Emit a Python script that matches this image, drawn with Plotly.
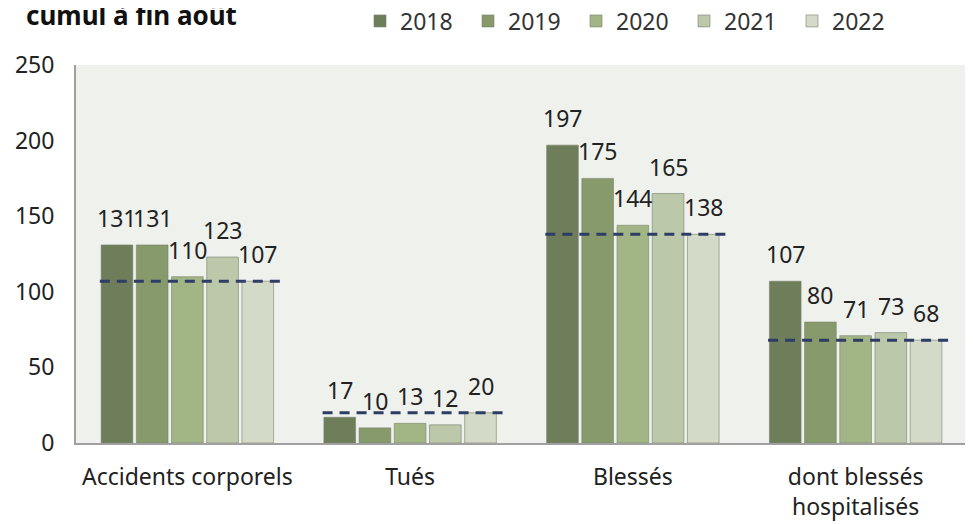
import plotly.graph_objects as go

categories = ["Accidents corporels", "Tués", "Blessés", "dont blessés<br>hospitalisés"]
years = ["2018", "2019", "2020", "2021", "2022"]
values = {
    "2018": [131, 17, 197, 107],
    "2019": [131, 10, 175, 80],
    "2020": [110, 13, 144, 71],
    "2021": [123, 12, 165, 73],
    "2022": [107, 20, 138, 68],
}
reference_year = "2022"
colors = ["#6e7d5a", "#879a6c", "#a2b584", "#bcc8aa", "#d3dbc8"]
y_ticks = [0, 50, 100, 150, 200, 250]

FONT = "Noto Sans"
FS = 23
BARGAP = 0.21
fig = go.Figure()
for yr, col in zip(years, colors):
    fig.add_trace(go.Bar(
        name=yr, x=categories, y=values[yr],
        marker=dict(color=col, line=dict(color="rgba(120,130,110,0.6)", width=1)),
        cliponaxis=False,
    ))

# data labels placed above each bar
slot = (1 - BARGAP) / len(years)
for j, yr in enumerate(years):
    off = (j - (len(years) - 1) / 2) * slot
    for i, v in enumerate(values[yr]):
        fig.add_annotation(x=i + off, y=v, xref="x", yref="y", text=str(v),
                           showarrow=False, yanchor="bottom", yshift=9,
                           font=dict(family=FONT, size=FS, color="#222"))

for i, v in enumerate(values[reference_year]):
    fig.add_shape(type="line", xref="x", yref="y",
                  x0=i - 0.393, x1=i + 0.42, y0=v, y1=v,
                  line=dict(color="#2e3d66", width=3, dash="10px,7px"))

# the page adds an 8px body margin: target page coords minus 8
OFF = 8
W, H = 973, 524
L, T = 76 - OFF, 65 - OFF
R = W - (967 - OFF)
B = H - (443 - OFF)
PH = H - T - B
PW = W - L - R

fig.add_annotation(text="<b>cumul à fin août</b>", xref="paper", yref="paper",
                   x=(24 - OFF - L) / PW, y=1 + (T - (15 - OFF)) / PH,
                   xanchor="left", yanchor="middle",
                   showarrow=False, font=dict(family=FONT, size=26, color="#111"))

fig.update_layout(
    width=W, height=H,
    margin=dict(l=L, r=R, t=T, b=B, autoexpand=False),
    paper_bgcolor="white", plot_bgcolor="#eef1ec",
    barmode="group", bargap=BARGAP, bargroupgap=0.1,
    font=dict(family=FONT, size=FS, color="#333"),
    showlegend=True,
    legend=dict(orientation="h", xref="container", yref="container",
                x=(360 - OFF) / W, y=1 - (21 - OFF) / H, xanchor="left", yanchor="middle",
                font=dict(family=FONT, size=FS, color="#333"),
                itemwidth=30, entrywidth=63, entrywidthmode="pixels",
                bgcolor="rgba(0,0,0,0)"),
    xaxis=dict(showline=True, linecolor="#a0a0a0", linewidth=2,
               ticks="outside", ticklen=12, tickcolor="rgba(0,0,0,0)",
               automargin=False,
               tickfont=dict(family=FONT, size=FS, color="#222"), showgrid=False),
    yaxis=dict(range=[0, 250], tickvals=y_ticks, showline=True, linecolor="#a0a0a0",
               linewidth=2, showgrid=False, zeroline=False,
               ticks="outside", ticklen=15, tickcolor="rgba(0,0,0,0)", automargin=False,
               tickfont=dict(family=FONT, size=FS, color="#222")),
)
fig.write_html("out.html")
